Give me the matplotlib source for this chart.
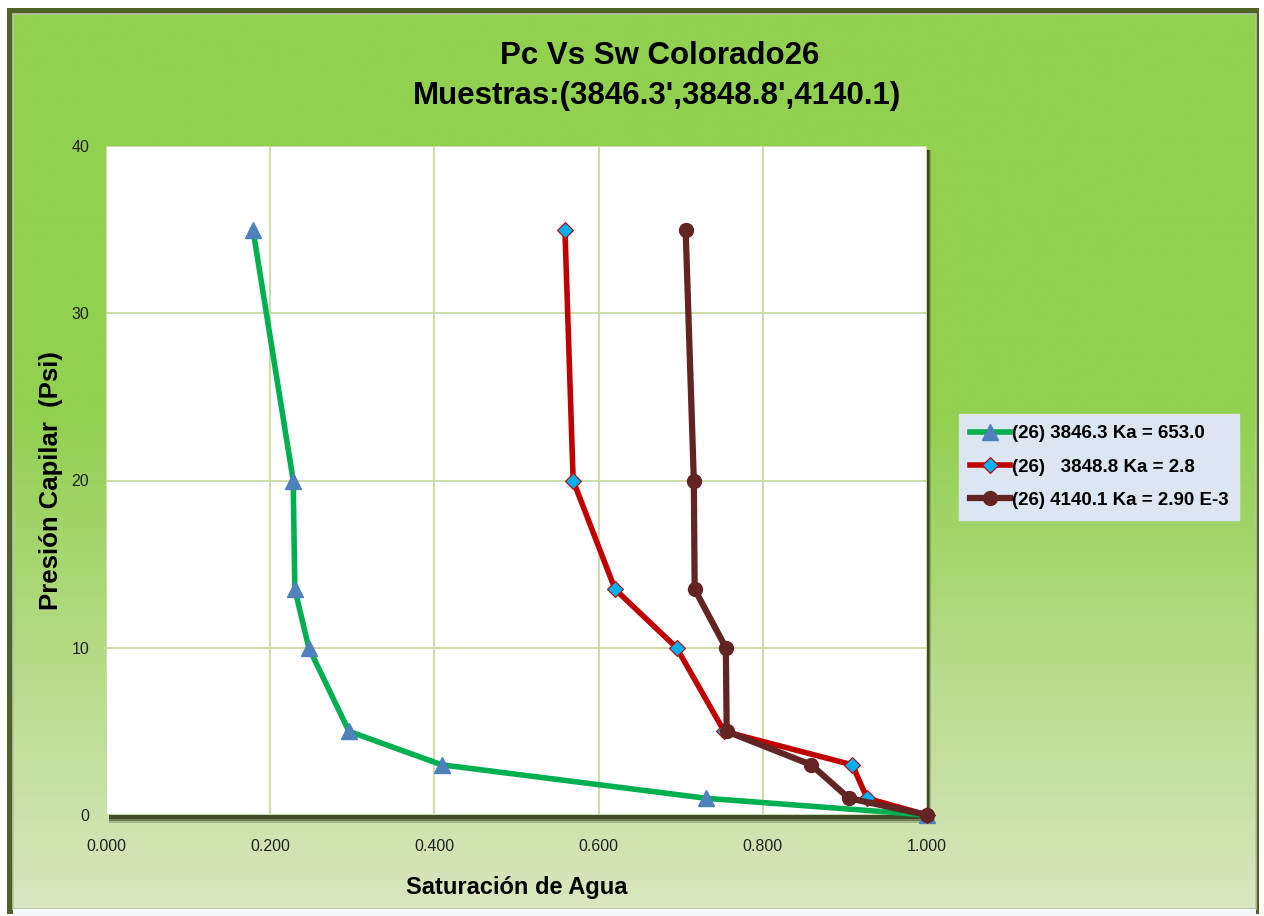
import numpy as np
import matplotlib
matplotlib.use("Agg")
from matplotlib import pyplot as plt
from matplotlib.patches import Rectangle

# water saturation (fraction) vs capillary pressure (psi)
pc_psi = [35, 20, 13.5, 10, 5, 3, 1, 0]
sw_38463 = [0.179, 0.228, 0.230, 0.247, 0.296, 0.409, 0.731, 1.000]
sw_38488 = [0.559, 0.569, 0.620, 0.695, 0.753, 0.909, 0.927, 1.000]
sw_41401 = [0.706, 0.716, 0.717, 0.755, 0.756, 0.859, 0.905, 1.000]

series_labels = ["(26) 3846.3 Ka = 653.0",
                 "(26)   3848.8 Ka = 2.8",
                 "(26) 4140.1 Ka = 2.90 E-3"]
x_ticks = [0.0, 0.2, 0.4, 0.6, 0.8, 1.0]
y_ticks = [0, 10, 20, 30, 40]

plt.rcParams['font.family'] = ['Liberation Sans', 'DejaVu Sans']

W, H = 1264, 916
fig = plt.figure(figsize=(W / 100, H / 100), dpi=100)
fig.patch.set_facecolor("white")

# background: dark frame + green gradient panel
bg = fig.add_axes([0, 0, 1, 1])
bg.set_xlim(0, W)
bg.set_ylim(H, 0)
bg.axis("off")
bg.add_patch(Rectangle((7, 8), 1252, 906, facecolor="#4F6228", edgecolor="none"))
top = np.array([0x92, 0xD0, 0x50]) / 255
bot = np.array([0xDA, 0xE6, 0xC0]) / 255
t = np.clip((np.linspace(0, 1, 400) - 0.45) / 0.55, 0, 1)[:, None]
grad = (top * (1 - t) + bot * t)[:, None, :]
bg.imshow(grad, extent=(13, 1256, 909, 14), aspect="auto", zorder=1)
bg.add_patch(Rectangle((13, 14), 1243, 895, facecolor="none",
                       edgecolor="#B8C4A8", linewidth=1.2, zorder=2))
bg.add_patch(Rectangle((13, 909), 1243, 7, facecolor="#F4F8FA",
                       edgecolor="none", zorder=2))

# plot-area drop shadow (mostly below the plot)
left, right, ytop, ybot = 106, 927, 146, 815
for i, a in enumerate([0.25, 0.45, 0.75]):
    dx = 4 - i
    dy = 8 - 2 * i
    bg.add_patch(Rectangle((left + 3, ytop + 4), right - left + dx - 3,
                           ybot - ytop + dy - 4, facecolor="#2F3A1C",
                           edgecolor="none", alpha=a, zorder=3))

ax = fig.add_axes([left / W, 1 - ybot / H, (right - left) / W, (ybot - ytop) / H])
ax.set_facecolor("white")
ax.set_xlim(0, 1)
ax.set_ylim(0, 40)
ax.set_xticks(x_ticks)
ax.set_yticks(y_ticks)
ax.set_xticklabels([f"{v:.3f}" for v in x_ticks])
ax.grid(True, color="#C9D9A3", linewidth=1.3)
ax.set_axisbelow(True)
for s in ax.spines.values():
    s.set_visible(False)
ax.tick_params(length=0, labelsize=11.5, colors="#222222")
ax.tick_params(axis="x", pad=17)
ax.tick_params(axis="y", pad=12)

ax.plot(sw_38463, pc_psi, color="#00B050", lw=4, marker="^", ms=11,
        mfc="#4F81BD", mec="#4F81BD", label=series_labels[0], clip_on=False, zorder=3)
ax.plot(sw_38488, pc_psi, color="#C00000", lw=4, marker="D", ms=8,
        mfc="#00B0F0", mec="#C00000", mew=0.8, label=series_labels[1], clip_on=False, zorder=4)
ax.plot(sw_41401, pc_psi, color="#632523", lw=4.5, marker="o", ms=10,
        mfc="#632523", mec="#632523", label=series_labels[2], clip_on=False, zorder=5)

ax.set_xlabel("Saturación de Agua", fontsize=17, fontweight="bold", labelpad=16)
ax.set_ylabel("Presión Capilar  (Psi)", fontsize=18.5, fontweight="bold", labelpad=6)

fig.text(660 / W, 1 - 56 / H, "Pc Vs Sw Colorado26", ha="center", va="center",
         fontsize=22.5, fontweight="bold")
fig.text(657 / W, 1 - 96 / H, "Muestras:(3846.3',3848.8',4140.1)", ha="center",
         va="center", fontsize=22.5, fontweight="bold")

leg = ax.legend(loc="center left", bbox_to_anchor=(959 / W, 1 - 467 / H),
                bbox_transform=fig.transFigure, frameon=True, fancybox=False,
                prop={"weight": "bold", "size": 13.5},
                handlelength=2.1, handletextpad=0.1, labelspacing=0.85,
                borderpad=0.6, borderaxespad=0)
leg.get_frame().set_facecolor("#DCE6F2")
leg.get_frame().set_edgecolor("#DCE6F2")
leg.get_frame().set_alpha(1)

fig.savefig("out.png", dpi=100)
